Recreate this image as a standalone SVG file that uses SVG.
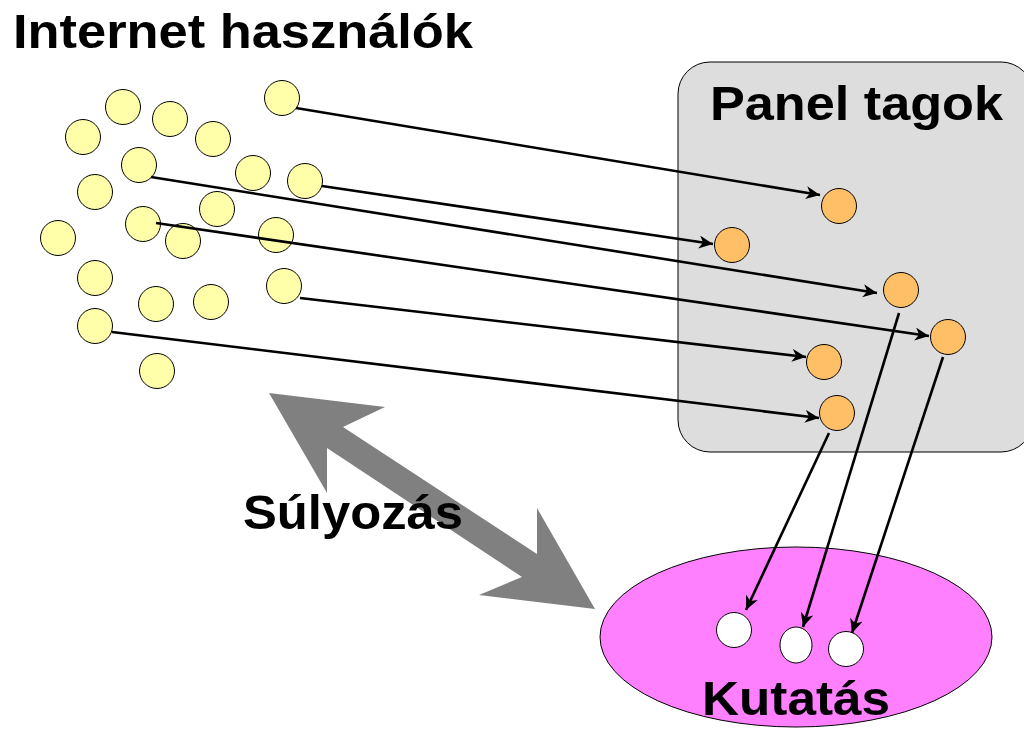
<svg xmlns="http://www.w3.org/2000/svg" width="1024" height="733" viewBox="0 0 1024 733">
<style>
text{font-family:"Liberation Sans",Arial,sans-serif;font-weight:bold;fill:#000}
.y{fill:#FFFFAA;stroke:#000;stroke-width:1}
.o{fill:#FFBF66;stroke:#000;stroke-width:1}
.w{fill:#FFFFFF;stroke:#000;stroke-width:1}
.c{stroke:#000;stroke-width:2.6;fill:none;marker-end:url(#ah)}
</style>
<defs>
<marker id="ah" markerUnits="userSpaceOnUse" markerWidth="16" markerHeight="14" refX="14" refY="6.5" orient="auto">
<path d="M0,0 L14,6.5 L0,13 L4,6.5 z" fill="#000"/>
</marker>
</defs>
<rect fill="#fff" width="1024" height="733"/>
<g id="panel">
<rect x="678" y="62" width="355" height="390" rx="32" ry="32" fill="#DDDDDD" stroke="#000" stroke-width="1"/>
<text x="710" y="120" font-size="49" textLength="293" lengthAdjust="spacingAndGlyphs">Panel tagok</text>
</g>
<g id="kutatas">
<ellipse cx="796" cy="637" rx="196" ry="90" fill="#FF80FF" stroke="#000" stroke-width="1"/>
</g>
<g id="sulyozas">
<polygon points="269,393 385,407 343,427 537,554 537,508 595,609 479,595 522,577 327,448 327,493" fill="#808080"/>
<text x="243" y="529" font-size="49" textLength="220" lengthAdjust="spacingAndGlyphs">Súlyozás</text>
</g>
<g id="users">
<circle class="y" cx="282" cy="98" r="17.5"/>
<circle class="y" cx="123" cy="107" r="17.5"/>
<circle class="y" cx="170" cy="119" r="17.5"/>
<circle class="y" cx="83" cy="137" r="17.5"/>
<circle class="y" cx="213" cy="139" r="17.5"/>
<circle class="y" cx="139" cy="165" r="17.5"/>
<circle class="y" cx="253" cy="173" r="17.5"/>
<circle class="y" cx="305" cy="181" r="17.5"/>
<circle class="y" cx="95" cy="192" r="17.5"/>
<circle class="y" cx="217" cy="209" r="17.5"/>
<circle class="y" cx="143" cy="224" r="17.5"/>
<circle class="y" cx="58" cy="238" r="17.5"/>
<circle class="y" cx="183" cy="241" r="17.5"/>
<circle class="y" cx="276" cy="235" r="17.5"/>
<circle class="y" cx="95" cy="278" r="17.5"/>
<circle class="y" cx="284" cy="286" r="17.5"/>
<circle class="y" cx="156" cy="304" r="17.5"/>
<circle class="y" cx="211" cy="302" r="17.5"/>
<circle class="y" cx="95" cy="326" r="17.5"/>
<circle class="y" cx="157" cy="371" r="17.5"/>
</g>
<g id="members">
<circle class="o" cx="839" cy="206" r="17.5"/>
<circle class="o" cx="732" cy="245" r="17.5"/>
<circle class="o" cx="901" cy="290" r="17.5"/>
<circle class="o" cx="948" cy="337" r="17.5"/>
<circle class="o" cx="824" cy="362" r="17.5"/>
<circle class="o" cx="837" cy="413" r="17.5"/>
</g>
<g id="sample">
<circle class="w" cx="734" cy="630" r="17.5"/>
<ellipse class="w" cx="796" cy="645" rx="16" ry="18"/>
<circle class="w" cx="846" cy="649" r="17.5"/>
</g>
<g id="connectors">
<line class="c" x1="296" y1="108" x2="820" y2="195"/>
<line class="c" x1="322" y1="186" x2="713" y2="244"/>
<line class="c" x1="151" y1="177" x2="877" y2="293"/>
<line class="c" x1="156" y1="223" x2="929" y2="336"/>
<line class="c" x1="300" y1="298" x2="806" y2="357"/>
<line class="c" x1="112" y1="332" x2="819" y2="418"/>
<line class="c" x1="829" y1="433" x2="746" y2="610"/>
<line class="c" x1="899" y1="313" x2="803" y2="627"/>
<line class="c" x1="943" y1="357" x2="852" y2="633"/>
</g>
<g id="labels">
<text x="13" y="48" font-size="49" textLength="460" lengthAdjust="spacingAndGlyphs">Internet használók</text>
<text x="702" y="715" font-size="49" textLength="188" lengthAdjust="spacingAndGlyphs">Kutatás</text>
</g>
</svg>
